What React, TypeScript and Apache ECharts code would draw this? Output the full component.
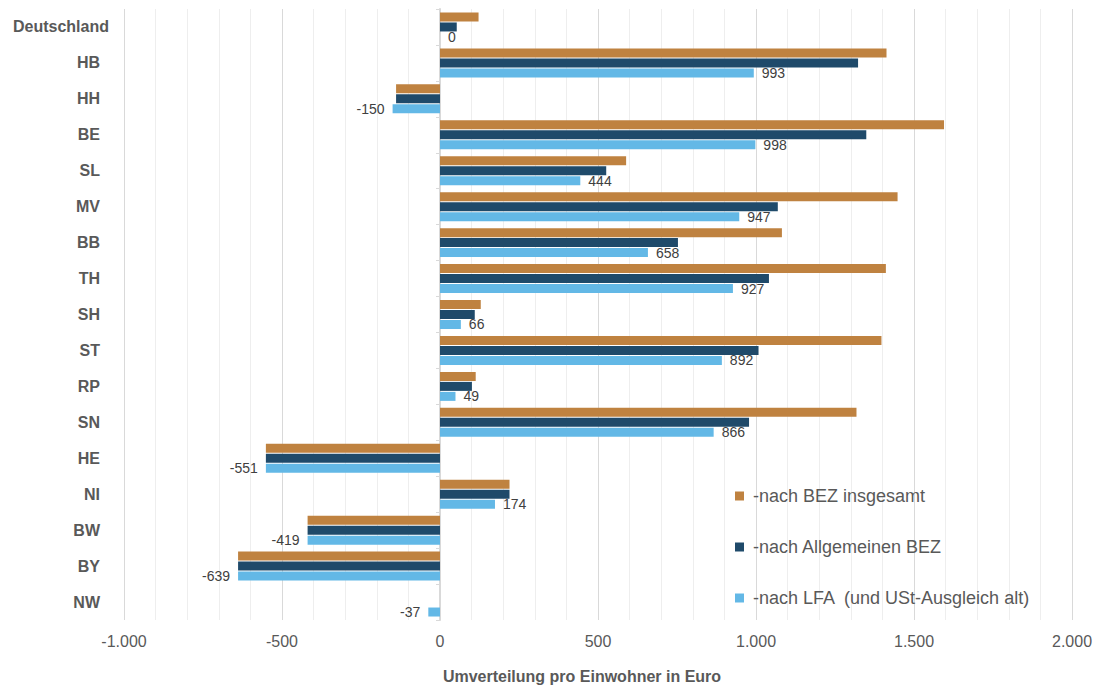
import React, { useEffect, useRef } from "react";
import * as echarts from "echarts";

const categories = ["Deutschland", "HB", "HH", "BE", "SL", "MV", "BB", "TH", "SH", "ST", "RP", "SN", "HE", "NI", "BW", "BY", "NW"];
const bezInsgesamt = [122, 1413, -139, 1595, 589, 1448, 1082, 1411, 129, 1397, 113, 1318, -551, 220, -419, -639, null];
const allgemeineBez = [53, 1323, -139, 1349, 526, 1069, 753, 1041, 110, 1008, 101, 978, -551, 220, -419, -639, null];
const lfa = [0, 993, -150, 998, 444, 947, 658, 927, 66, 892, 49, 866, -551, 174, -419, -639, -37];
const seriesNames = ["-nach BEZ insgesamt", "-nach Allgemeinen BEZ", "-nach LFA  (und USt-Ausgleich alt)"];
const xTicks = [-1000, -500, 0, 500, 1000, 1500, 2000];
const xName = "Umverteilung pro Einwohner in Euro";

const FONT = "'Liberation Sans', Arial, Helvetica, sans-serif";

function fmt(v: number): string {
  const s = Math.abs(v).toString().replace(/\B(?=(\d{3})+(?!\d))/g, ".");
  return (v < 0 ? "-" : "") + s;
}

export default function App() {
  const ref = useRef<HTMLDivElement>(null);
  useEffect(() => {
    if (!ref.current) return;
    const chart = echarts.init(ref.current, undefined, { renderer: "svg" });
    const option: any = {
      animation: false,
      backgroundColor: "#ffffff",
      textStyle: { fontFamily: FONT },
      grid: { left: 124, right: 26, top: 9, bottom: 67, containLabel: false },
      legend: {
        orient: "vertical",
        left: 730,
        top: 482,
        itemWidth: 9,
        itemHeight: 9,
        itemGap: 33,
        icon: "rect",
        data: seriesNames,
        textStyle: { fontSize: 18, color: "#595959", fontFamily: FONT, lineHeight: 18, padding: [0, 0, 0, 4] },
      },
      xAxis: {
        type: "value",
        min: xTicks[0],
        max: xTicks[xTicks.length - 1],
        interval: 500,
        name: xName,
        nameLocation: "middle",
        nameGap: 48,
        nameTextStyle: { fontSize: 16, fontWeight: "bold", color: "#595959", fontFamily: FONT, padding: [0, 32, 0, 0] },
        axisLine: { show: false },
        axisTick: { show: false },
        axisLabel: { fontSize: 16, color: "#595959", margin: 13, formatter: (v: number) => fmt(v), fontFamily: FONT },
        splitLine: { show: true, lineStyle: { color: "#d9d9d9", width: 1 } },
        minorTick: { show: false, splitNumber: 5 },
        minorSplitLine: { show: true, lineStyle: { color: "#eeeeee", width: 1 } },
      },
      yAxis: [
        {
          type: "category",
          data: categories,
          inverse: true,
          axisLine: { show: false, onZero: false },
          axisTick: { show: false },
          axisLabel: {
            margin: 15,
            formatter: (v: string) => (v === "Deutschland" ? `{d|${v}}` : `{o|${v}}`),
            rich: {
              d: { fontSize: 16, fontWeight: "bold", color: "#595959", fontFamily: FONT },
              o: { fontSize: 16, fontWeight: "bold", color: "#595959", fontFamily: FONT, padding: [0, 9, 0, 0] },
            },
          },
        },
        {
          type: "category",
          data: categories,
          inverse: true,
          position: "left",
          axisLine: { show: true, onZero: true, lineStyle: { color: "#d9d9d9", width: 2 } },
          axisTick: { show: true, length: 4, lineStyle: { color: "#d9d9d9" } },
          axisLabel: { show: false },
          splitLine: { show: false },
        },
      ],
      series: [
        {
          name: seriesNames[0],
          type: "bar",
          data: bezInsgesamt,
          barWidth: 9,
          barGap: "11%",
          itemStyle: { color: "#BF8240" },
          z: 3,
        },
        {
          name: seriesNames[1],
          type: "bar",
          data: allgemeineBez,
          barWidth: 9,
          barGap: "11%",
          itemStyle: { color: "#1F4A6A" },
          z: 3,
        },
        {
          name: seriesNames[2],
          type: "bar",
          data: lfa.map((v) => ({
            value: v,
            label: { position: v < 0 ? "left" : "right" },
          })),
          barWidth: 9,
          barGap: "11%",
          itemStyle: { color: "#63B8E6" },
          z: 3,
          label: {
            show: true,
            distance: 8,
            fontSize: 14,
            color: "#404040",
            fontFamily: FONT,
            formatter: (p: any) => fmt(p.value),
          },
        },
      ],
    };
    chart.setOption(option);
    return () => chart.dispose();
  }, []);
  return (
    <div
      ref={ref}
      style={{ position: "fixed", left: 0, top: 0, width: 1098, height: 689 }}
    />
  );
}
